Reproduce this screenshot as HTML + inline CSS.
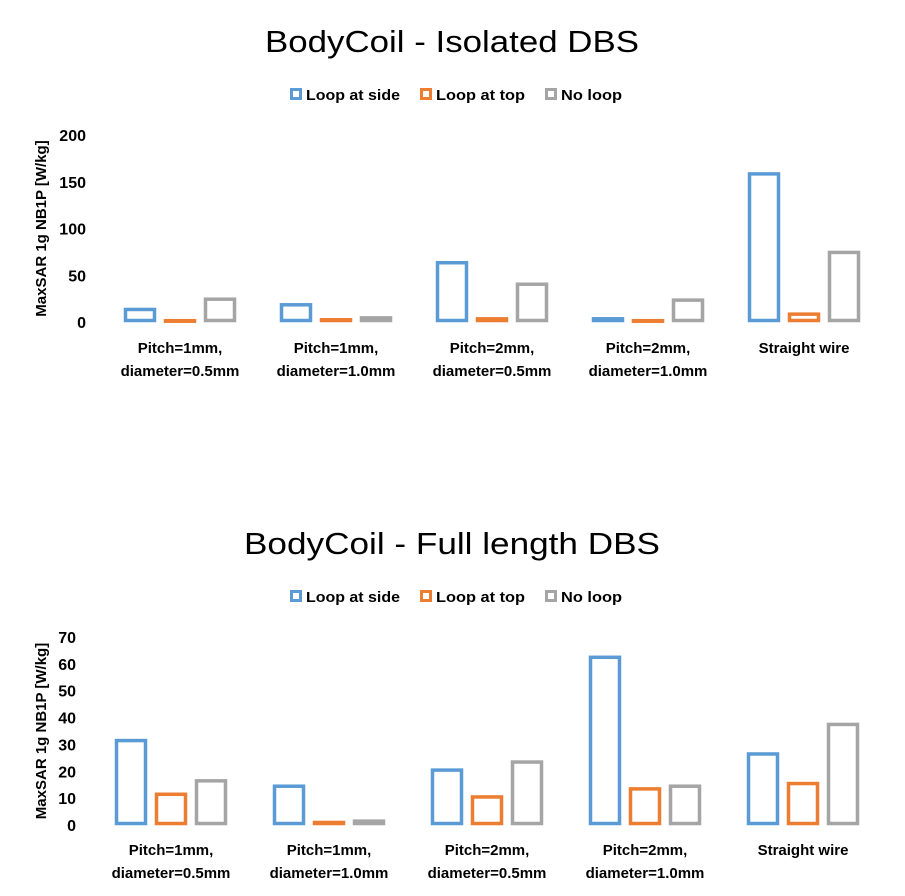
<!DOCTYPE html>
<html><head><meta charset="utf-8"><style>
html,body{margin:0;padding:0;background:#fff;}
svg{display:block;font-family:"Liberation Sans",sans-serif;}
</style></head><body>
<svg id="svg" width="905" height="896" viewBox="0 0 905 896"></svg>
<script>
const categories = [["Pitch=1mm,","diameter=0.5mm"],["Pitch=1mm,","diameter=1.0mm"],["Pitch=2mm,","diameter=0.5mm"],["Pitch=2mm,","diameter=1.0mm"],["Straight wire"]];
const seriesNames = ["Loop at side","Loop at top","No loop"];
const isoSide = [15, 20, 65, 5, 160];
const isoTop = [3, 4, 5, 3, 10];
const isoNone = [26, 6, 42, 25, 76];
const fullSide = [32, 15, 21, 63, 27];
const fullTop = [12, 1.5, 11, 14, 16];
const fullNone = [17, 2, 24, 15, 38];
const isoTicks = [0, 50, 100, 150, 200];
const fullTicks = [0, 10, 20, 30, 40, 50, 60, 70];
const colors = ["#5b9bd5","#ed7d31","#a5a5a5"];
const NS = "http://www.w3.org/2000/svg";
const svg = document.getElementById("svg");
function mk(tag, attrs, parent){const e=document.createElementNS(NS,tag);for(const k in attrs)e.setAttribute(k,attrs[k]);(parent||svg).appendChild(e);return e;}

function chart(o){
  const g = mk("g",{});
  
  
  const t = mk("text",{x:452,y:o.titleY,"text-anchor":"middle","font-size":31,fill:"#000",textLength:o.titleW,lengthAdjust:"spacingAndGlyphs"},g);
  t.textContent = o.title;
  
  
  const lx=[290,420,545], tw=[94,89,61];
  seriesNames.forEach((n,i)=>{
    const le = mk("g",{},g);
    
    
    mk("rect",{x:lx[i]+1.5,y:o.legY-10.5,width:9,height:9,fill:"none",stroke:colors[i],"stroke-width":3},le);
    const tt = mk("text",{x:lx[i]+16,y:o.legY,"font-size":15,"font-weight":"bold",fill:"#000",textLength:tw[i],lengthAdjust:"spacingAndGlyphs"},le);
    tt.textContent = n;
  });
  const y = v => o.y0 - (v - 0) / o.max * (o.y0 - o.yTop);
  const ya = mk("text",{transform:`translate(${o.axX},${(o.y0+o.yTop)/2}) rotate(-90)`,"text-anchor":"middle","font-size":15,"font-weight":"bold",fill:"#000"},g);
  ya.textContent = "MaxSAR 1g NB1P [W/kg]";
  
  
  o.ticks.forEach(tv=>{
    const tl = mk("text",{x:o.tickX,y:y(tv)+6,"text-anchor":"end","font-size":16,"font-weight":"bold",fill:"#000"},g);
    tl.textContent = tv;
    
    
  });
  const cx = i => o.c0 + i * o.step;
  const bw = 32, gap = 8;
  categories.forEach((c,i)=>{
    c.forEach((line,j)=>{
      const cl = mk("text",{x:cx(i),y:o.labY+j*23,"text-anchor":"middle","font-size":15,"font-weight":"bold",fill:"#000"},g);
      cl.textContent = line;
      
      
    });
    o.series.forEach((arr,s)=>{
      const x = cx(i) + (s-1)*(bw+gap) - bw/2;
      const top = y(arr[i]);
      const h = Math.max(o.y0 - top, 0);
      const b = mk("rect",{x:x+1.5,y:top+1.5,width:bw-3,height:Math.max(h-3,0.5),fill:"none",stroke:colors[s],"stroke-width":3.5},g);
      
      
    });
  });
}
chart({name:"isolated-dbs-chart",title:"BodyCoil - Isolated DBS",titleY:52,titleW:374,legY:100,y0:322,yTop:135,max:200,ticks:isoTicks,tickX:86,axX:46,c0:180,step:156,labY:353,series:[isoSide,isoTop,isoNone]});
chart({name:"full-length-dbs-chart",title:"BodyCoil - Full length DBS",titleY:554,titleW:416,legY:602,y0:825,yTop:637,max:70,ticks:fullTicks,tickX:76,axX:46,c0:171,step:158,labY:855,series:[fullSide,fullTop,fullNone]});
</script>
</body></html>
